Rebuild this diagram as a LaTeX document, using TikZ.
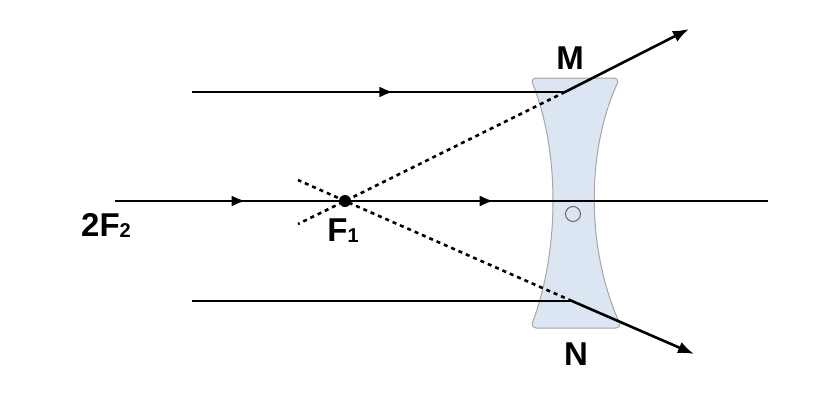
\documentclass[tikz,border=0pt]{standalone}
\usepackage{fontspec}
\setmainfont{Liberation Sans}
\usetikzlibrary{arrows.meta,decorations.markings}
\tikzset{
  ray/.style={line width=2.6pt},
  tipray/.style={ray,-{Latex[length=16pt,width=12pt]}},
  midarrow/.style={ray,decoration={markings,mark=at position #1 with {\arrow{Latex[length=14pt,width=11pt]}}},postaction=decorate},
  virt/.style={line width=2.6pt,dash pattern=on 4pt off 4pt},
  lbl/.style={font=\bfseries\fontsize{33}{36}\selectfont}
}
\newcommand{\lowsub}[1]{\raisebox{-1pt}{\fontsize{20}{22}\selectfont #1}}
\begin{document}
\begin{tikzpicture}[x=1pt,y=-1pt]
	\useasboundingbox (0,0) rectangle (828,408);
	% lens
	\draw[draw=gray!70,line width=1pt,fill={rgb,255:red,220;green,230;blue,242}]
		(536,78) -- (614,78) to[out=0,in=90] (618,82)
		.. controls (586,150) and (586,250) .. (620,324) to[out=-90,in=0] (616,328)
		-- (536,328) to[out=180,in=-90] (532,324)
		.. controls (560,250) and (560,150) .. (532,82) to[out=90,in=180] cycle;
	\node[draw=gray!80!black,line width=1pt,circle,minimum size=15pt,inner sep=0pt] (O) at (573,214) {};
	% points
	\coordinate (A) at (115,201);
	\coordinate (B) at (768,201);
	\coordinate (T0) at (192,92);
	\coordinate (M1) at (565,92);
	\coordinate (M2) at (689,29);
	\coordinate (B0) at (192,301);
	\coordinate (N1) at (572,301);
	\coordinate (N2) at (694,354);
	\coordinate (D1) at (298,224);
	\coordinate (D2) at (298,180);
	\node[circle,fill=black,minimum size=12pt,inner sep=0pt] (F) at (345,201) {};
	% rays
	\draw[midarrow=0.2] (A) -- (B);
	\draw[ray,decoration={markings,mark=at position 0.58 with {\arrow{Latex[length=14pt,width=11pt]}}},postaction=decorate] (A) -- (B);
	\draw[midarrow=0.54] (T0) -- (M1);
	\draw[ray] (B0) -- (N1);
	\draw[virt] (M1) -- (F.center) -- (D1);
	\draw[virt] (N1) -- (F.center) -- (D2);
	\draw[tipray] (M1) -- (M2);
	\draw[tipray] (N1) -- (N2);
	% labels
	\node[lbl] (Mlab) at (570,58) {M};
	\node[lbl] (Nlab) at (576,354) {N};
	\node[lbl] (Flab) at (343,231) {F\lowsub{1}};
	\node[lbl] (F2lab) at (106,225) {2F\lowsub{2}};
\end{tikzpicture}
\end{document}
